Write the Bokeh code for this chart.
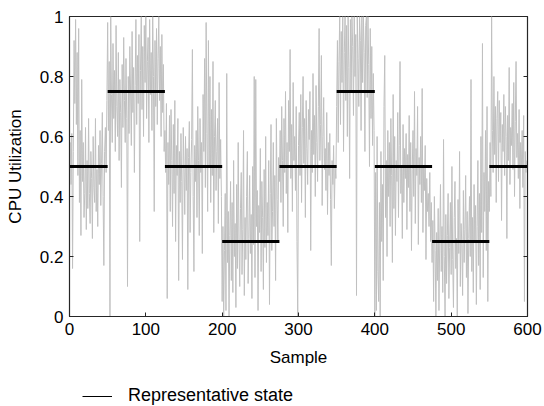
import numpy as np
from bokeh.plotting import figure
from bokeh.layouts import column
from bokeh.models import (Range1d, FixedTicker, LinearAxis, Legend, LegendItem)
from bokeh.embed import file_html
from bokeh.resources import INLINE

# ---- data ----
cpu_util = [
    # samples 0-49
    0.52,0.58,0.44,0.61,0.16,0.55,0.92,0.71,0.99,0.64,
    0.88,0.47,0.96,0.38,0.62,0.27,0.79,0.45,0.58,0.33,
    0.41,0.63,0.29,0.52,0.36,0.66,0.41,0.31,0.55,0.46,
    0.26,0.60,0.43,0.38,0.66,0.35,0.49,0.30,0.57,0.44,
    0.62,0.37,0.51,0.68,0.40,0.17,0.55,0.63,0.48,0.72,
    # samples 50-124
    0.98,0.62,0.85,0.00,1.00,0.74,0.58,0.91,0.66,0.82,
    0.55,0.97,0.70,0.60,0.88,0.52,0.79,0.68,0.43,0.84,
    0.63,0.93,0.72,0.58,0.86,0.66,0.10,0.80,0.61,0.90,
    0.75,0.57,0.95,0.68,0.83,0.48,0.77,0.99,0.64,0.87,
    0.71,0.94,0.25,0.82,1.00,0.69,0.90,0.60,0.97,0.78,
    1.00,0.66,0.85,0.93,0.58,0.99,0.74,0.88,0.62,1.00,
    0.80,0.35,0.92,0.70,0.96,0.64,0.86,1.00,0.72,0.90,
    0.60,0.94,0.68,0.84,0.55,
    # samples 125-199
    0.62,0.48,0.71,0.06,0.58,0.44,0.67,0.35,0.69,0.52,
    0.30,0.64,0.41,0.72,0.25,0.57,0.47,0.66,0.12,0.55,
    0.38,0.61,0.45,0.19,0.63,0.50,0.34,0.60,0.42,0.56,
    0.09,0.53,0.65,0.28,0.48,0.59,0.89,0.40,0.15,0.57,
    0.45,0.62,0.33,0.70,0.52,0.27,0.66,0.48,0.58,0.21,
    0.74,0.55,0.86,0.43,0.98,0.61,0.35,0.92,0.50,0.80,
    0.38,0.69,0.47,0.85,0.28,0.60,0.72,0.42,0.55,0.66,
    0.31,0.78,0.46,0.59,0.40,
    # samples 200-274
    0.05,0.30,0.00,0.22,0.41,0.02,0.81,0.18,0.35,0.00,
    0.27,0.45,0.12,0.38,0.08,0.52,0.20,0.31,0.03,0.44,
    0.16,0.58,0.25,0.10,0.36,0.48,0.14,0.29,0.62,0.07,
    0.33,0.19,0.40,0.55,0.11,0.26,0.47,0.21,0.34,0.06,
    0.50,0.24,0.80,0.13,0.79,0.30,0.42,0.02,0.37,0.28,
    0.56,0.15,0.45,0.33,0.09,0.49,0.23,0.60,0.18,0.38,
    0.27,0.52,0.04,0.41,0.64,0.22,0.35,0.58,0.30,0.47,
    0.12,0.66,0.39,0.25,0.53,
    # samples 275-349
    0.45,0.62,0.38,0.70,0.52,0.30,0.66,0.48,0.75,0.41,
    0.58,0.28,0.72,0.55,0.89,0.46,0.64,0.35,0.78,0.52,
    0.60,0.42,0.70,0.25,0.00,0.57,0.68,0.47,0.74,0.38,
    0.63,0.80,0.51,0.66,0.33,0.72,0.56,0.44,0.69,0.59,
    0.75,0.22,0.62,0.48,0.81,0.54,0.67,0.40,0.77,0.58,
    0.45,0.70,0.96,0.52,0.64,0.87,0.37,0.60,0.73,0.49,
    0.56,0.42,0.68,0.34,0.58,0.47,0.61,0.39,0.17,0.52,
    0.44,0.57,0.36,0.50,0.46,
    # samples 350-399
    0.70,0.92,0.58,0.85,1.00,0.64,0.95,0.78,1.00,0.55,
    0.88,1.00,0.72,0.97,0.60,1.00,0.83,0.46,0.99,0.75,
    1.00,0.90,0.67,1.00,0.80,0.94,0.07,1.00,0.86,0.70,
    1.00,0.92,0.62,1.00,0.78,1.00,0.88,0.55,0.97,1.00,
    0.73,1.00,0.84,0.50,0.96,0.66,0.90,0.57,0.81,0.62,
    # samples 400-474
    0.00,0.48,0.02,0.60,0.15,0.05,0.38,0.00,0.55,0.25,
    0.44,0.12,0.70,0.87,0.33,0.52,0.20,0.62,0.40,0.58,
    0.30,0.66,0.47,0.18,0.74,0.36,0.60,0.27,0.52,0.45,
    0.68,0.33,0.57,0.85,0.41,0.50,0.26,0.64,0.38,0.56,
    0.46,0.61,0.29,0.54,0.43,0.67,0.35,0.58,0.22,0.49,
    0.62,0.40,0.75,0.31,0.56,0.47,0.70,0.24,0.53,0.44,
    0.60,0.38,0.76,0.28,0.50,0.42,0.57,0.19,0.46,0.35,
    0.41,0.30,0.48,0.25,0.38,
    # samples 475-549
    0.18,0.32,0.05,0.40,0.22,0.00,0.28,0.12,0.36,0.02,
    0.25,0.44,0.15,0.30,0.08,0.59,0.20,0.00,0.34,0.11,
    0.27,0.41,0.06,0.23,0.38,0.14,0.50,0.19,0.03,0.33,
    0.45,0.16,0.26,0.00,0.39,0.21,0.55,0.10,0.31,0.24,
    0.07,0.42,0.18,0.29,0.47,0.13,0.35,0.01,0.26,0.40,
    0.20,0.79,0.15,0.33,0.08,0.44,0.25,0.37,0.04,0.30,
    0.52,0.17,0.41,0.09,0.60,0.28,0.91,0.13,0.48,0.35,
    0.62,0.22,0.70,0.05,0.45,
    # samples 550-599
    0.35,0.58,0.40,1.00,0.62,0.48,0.80,0.54,0.70,0.38,
    0.66,0.75,0.45,0.72,0.58,0.68,0.32,0.64,0.55,0.74,
    0.47,0.70,0.60,0.26,0.67,0.52,0.83,0.44,0.63,0.57,
    0.71,0.49,0.78,0.40,0.65,0.85,0.53,0.61,0.46,0.69,
    0.36,0.58,0.50,0.62,0.43,0.67,0.05,0.55,0.48,0.52,
]
samples = list(range(len(cpu_util)))

state_start = [0, 50, 125, 200, 275, 350, 400, 475, 550]
state_end   = [50, 125, 200, 275, 350, 400, 475, 550, 600]
state_value = [0.5, 0.75, 0.5, 0.25, 0.5, 0.75, 0.5, 0.25, 0.5]

x_ticks = [0, 100, 200, 300, 400, 500, 600]
y_ticks = [0, 0.2, 0.4, 0.6, 0.8, 1]
y_tick_labels = ["0", "0.2", "0.4", "0.6", "0.8", "1"]

legend_label = "Representative state"

FONT = "Liberation Sans"
FS = "17px"
DARK = "#262626"

p = figure(width=544, height=376, output_backend="svg", toolbar_location=None,
           x_range=Range1d(0, 600), y_range=Range1d(0, 1),
           min_border_left=69, min_border_right=17, min_border_top=16,
           min_border_bottom=60, background_fill_color="white",
           border_fill_color="white")
p.grid.visible = False
p.outline_line_color = DARK
p.outline_line_width = 1.2

p.line(samples, cpu_util, line_color="#c0c0c0", line_width=1)
p.segment(x0=state_start, y0=state_value, x1=state_end, y1=state_value,
          line_color="black", line_width=3)

def style(ax):
    ax.major_tick_in = 4
    ax.major_tick_out = 0
    ax.minor_tick_line_color = None
    ax.axis_line_color = DARK
    ax.major_tick_line_color = DARK
    ax.major_label_text_font = FONT
    ax.major_label_text_font_size = FS
    ax.major_label_text_color = "black"
    ax.axis_label_text_font = FONT
    ax.axis_label_text_font_size = FS
    ax.axis_label_text_font_style = "normal"
    ax.axis_label_text_color = "black"

xa = p.xaxis[0]
ya = p.yaxis[0]
xa.ticker = FixedTicker(ticks=x_ticks)
ya.ticker = FixedTicker(ticks=y_ticks)
ya.major_label_overrides = dict(zip(y_ticks, y_tick_labels))
style(xa)
style(ya)
xa.axis_label = "Sample"
ya.axis_label = "CPU Utilization"
xa.major_label_standoff = 6
ya.major_label_standoff = 6
xa.axis_label_standoff = 10
ya.axis_label_standoff = 12

ra = LinearAxis(ticker=FixedTicker(ticks=y_ticks), major_label_standoff=0)
style(ra)
ra.major_label_overrides = {t: "" for t in y_ticks}
p.add_layout(ra, "right")

# legend strip below the chart
lg = figure(width=544, height=30, output_backend="svg", toolbar_location=None,
            x_range=Range1d(0, 1), y_range=Range1d(0, 1),
            min_border_left=69, min_border_right=17, min_border_top=0,
            min_border_bottom=0, background_fill_color="white",
            border_fill_color="white", outline_line_color=None)
lg.axis.visible = False
lg.grid.visible = False
legend_r = lg.line(x=np.array([0.0]), y=np.array([np.nan]),
                   line_color="black", line_width=1)
legend = Legend(items=[LegendItem(label=legend_label, renderers=[legend_r])],
                location=(13, 0), padding=0, margin=0,
                glyph_width=30, glyph_height=20, label_standoff=16,
                label_text_font=FONT, label_text_font_size="18px",
                label_text_color="black",
                border_line_color=None, background_fill_alpha=0)
lg.add_layout(legend, "center")

layout = column(p, lg, spacing=0)
open("out.html", "w").write(file_html(layout, INLINE))
